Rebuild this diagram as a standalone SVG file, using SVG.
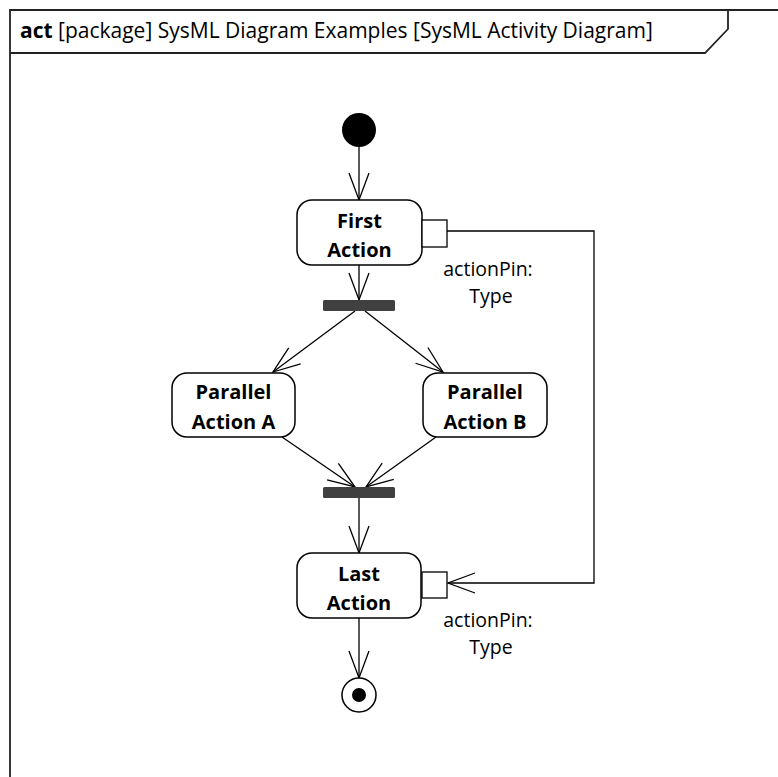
<svg xmlns="http://www.w3.org/2000/svg" width="778" height="777" viewBox="0 0 778 777">
<style>
.frame{fill:none;stroke:#222;stroke-width:1.8}
.action{fill:#fff;stroke:#000;stroke-width:1.5}
.pin{fill:#fff;stroke:#000;stroke-width:1.3}
.bar{fill:#404040}
.edge{fill:none;stroke:#000;stroke-width:1.3}
.bold{font-family:"Open Sans","Liberation Sans",sans-serif;font-weight:bold;font-size:20px;text-anchor:middle;fill:#000}
.lbl{font-family:"Open Sans","Liberation Sans",sans-serif;font-size:19.5px;text-anchor:middle;fill:#000}
.hdr{font-family:"Open Sans","Liberation Sans",sans-serif;font-size:21px;fill:#000}
</style>
<defs>
<marker id="open" markerUnits="userSpaceOnUse" markerWidth="30" markerHeight="24" refX="27" refY="12" orient="auto" overflow="visible">
<path d="M0,2 L27,12 L0,22" fill="none" stroke="#000" stroke-width="1.3"/>
</marker>
</defs>
<rect width="778" height="777" fill="#fff"/>
<g id="frame">
<path class="frame" d="M10,800 V10 H800"/>
<path class="frame" d="M10,53 H705 L728,29 V10"/>
<text class="hdr" x="20" y="38"><tspan font-weight="bold">act</tspan> [package] SysML Diagram Examples [SysML Activity Diagram]</text>
</g>
<g id="connectors">
<line class="edge" x1="359" y1="147" x2="359" y2="200" marker-end="url(#open)"/>
<line class="edge" x1="359" y1="265" x2="359" y2="300" marker-end="url(#open)"/>
<line class="edge" x1="355" y1="311" x2="273" y2="372" marker-end="url(#open)"/>
<line class="edge" x1="365" y1="311" x2="443" y2="372" marker-end="url(#open)"/>
<line class="edge" x1="282" y1="437" x2="355" y2="487" marker-end="url(#open)"/>
<line class="edge" x1="436" y1="437" x2="366" y2="487" marker-end="url(#open)"/>
<line class="edge" x1="359" y1="498" x2="359" y2="553" marker-end="url(#open)"/>
<line class="edge" x1="359" y1="618" x2="359" y2="678" marker-end="url(#open)"/>
<path class="edge" d="M447,231 H594 V583 H448" marker-end="url(#open)"/>
</g>
<g id="initial">
<circle cx="359" cy="130" r="17" fill="#000"/>
</g>
<g id="first-action">
<rect class="action" x="297" y="200" width="125" height="65" rx="15"/>
<text class="bold" x="359.5" y="228">First</text>
<text class="bold" x="359.5" y="257">Action</text>
</g>
<g id="first-pin">
<rect class="pin" x="422" y="220" width="25" height="27"/>
<text class="lbl" x="488" y="276">actionPin:</text>
<text class="lbl" x="491" y="303">Type</text>
</g>
<g id="fork">
<rect class="bar" x="323" y="300" width="72" height="11" rx="1.5"/>
</g>
<g id="parallel-a">
<rect class="action" x="172" y="373" width="123" height="64" rx="15"/>
<text class="bold" x="233.5" y="399">Parallel</text>
<text class="bold" x="233.5" y="429">Action A</text>
</g>
<g id="parallel-b">
<rect class="action" x="423" y="373" width="124" height="64" rx="15"/>
<text class="bold" x="485" y="399">Parallel</text>
<text class="bold" x="485" y="429">Action B</text>
</g>
<g id="join">
<rect class="bar" x="323" y="487" width="72" height="11" rx="1.5"/>
</g>
<g id="last-action">
<rect class="action" x="297" y="553" width="124" height="65" rx="15"/>
<text class="bold" x="359" y="581">Last</text>
<text class="bold" x="359" y="610">Action</text>
</g>
<g id="last-pin">
<rect class="pin" x="422" y="572" width="25" height="26"/>
<text class="lbl" x="488" y="627">actionPin:</text>
<text class="lbl" x="491" y="654">Type</text>
</g>
<g id="final">
<circle cx="359" cy="695" r="17" fill="#fff" stroke="#000" stroke-width="1.5"/>
<circle cx="359" cy="695" r="7" fill="#000"/>
</g>
</svg>
